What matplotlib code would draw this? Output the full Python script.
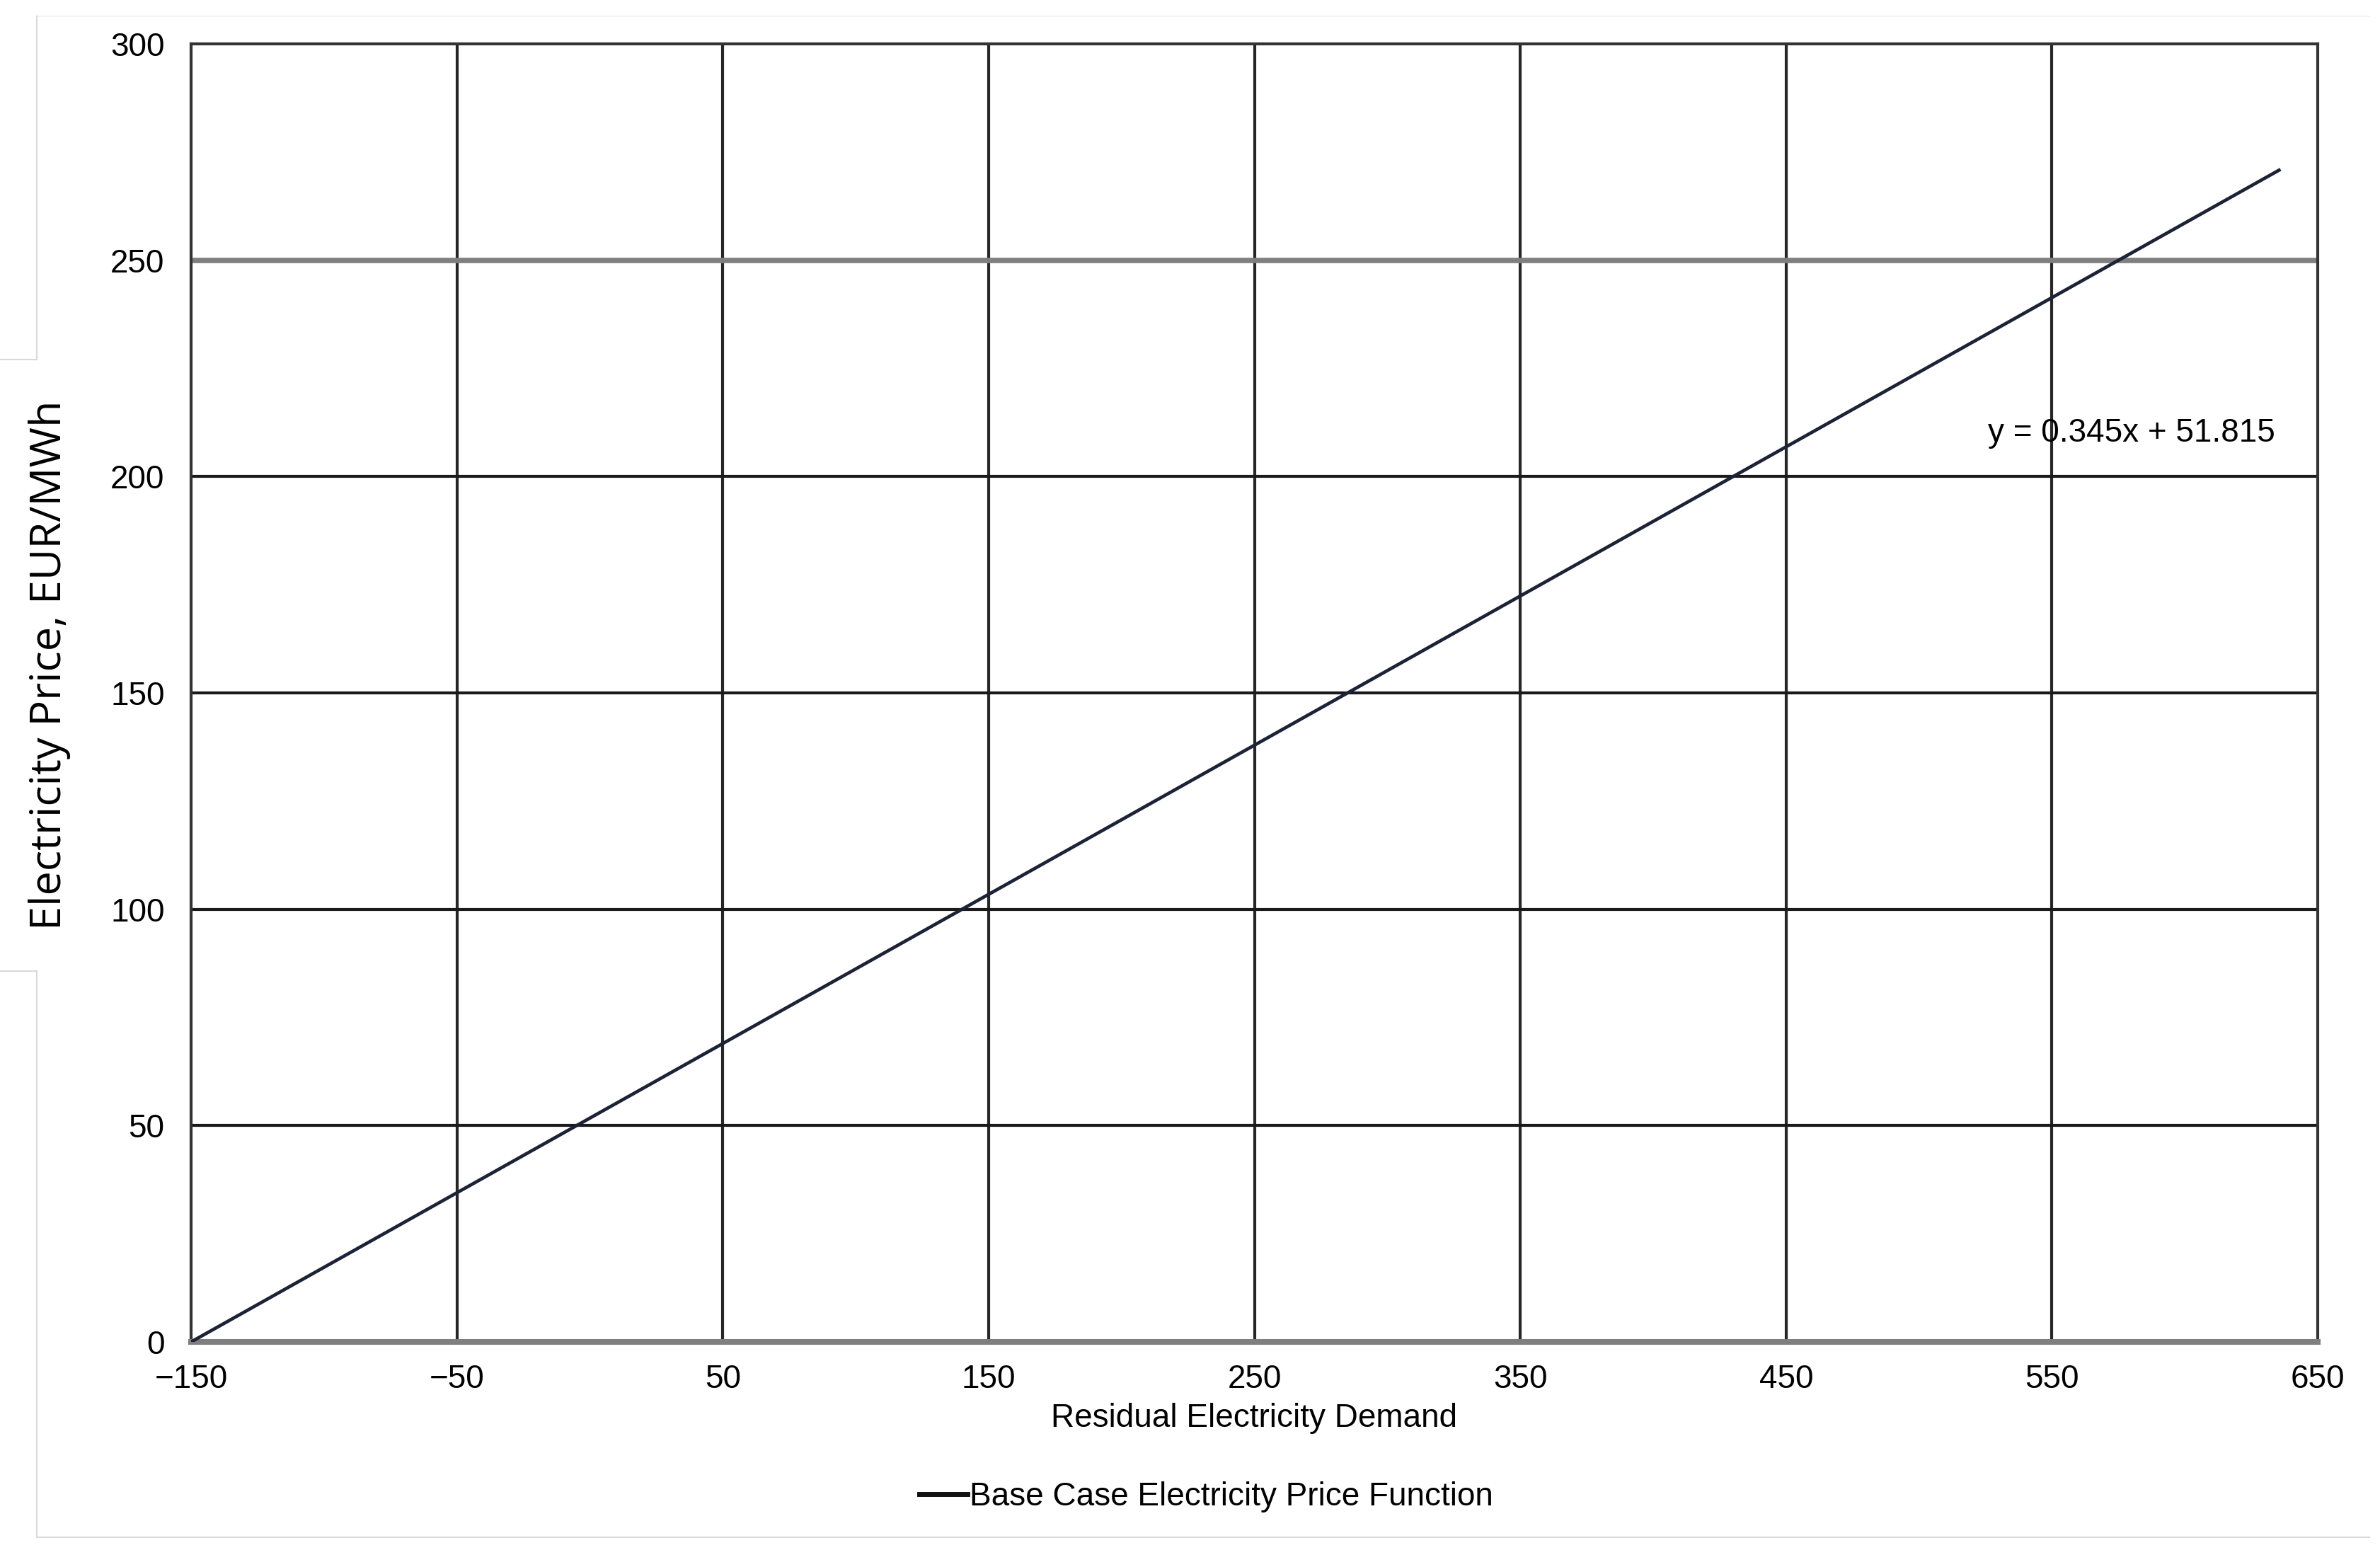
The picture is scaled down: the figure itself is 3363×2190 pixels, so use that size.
"""
Base case electricity price function vs residual demand.
"""
import matplotlib
matplotlib.use('Agg')
import matplotlib.pyplot as plt
from matplotlib.lines import Line2D

# data
demand = [-150, 636]
price = [0, 271]
x_ticks = [-150, -50, 50, 150, 250, 350, 450, 550, 650]
y_ticks = [0, 50, 100, 150, 200, 250, 300]
equation = 'y = 0.345x + 51.815'
series_name = 'Base Case Electricity Price Function'

W, H = 3363, 2190
fig = plt.figure(figsize=(W / 100, H / 100), dpi=100)
fig.patch.set_facecolor('white')

narrow = ['Liberation Sans Narrow', 'Liberation Sans', 'DejaVu Sans']

ax = fig.add_axes([270 / W, 1 - 1896 / H, (3275 - 270) / W, (1896 - 62) / H])
ax.set_xlim(-150, 650)
ax.set_ylim(0, 300)
ax.set_xticks(x_ticks)
ax.set_yticks(y_ticks)

# gridlines: dark verticals, dark horizontals except 250 which is grey
for xv in x_ticks[1:-1]:
    ax.axvline(xv, color='#262626', lw=3.0, zorder=1)
for yv in y_ticks[1:-1]:
    if yv == 250:
        ax.axhline(yv, color='#7f7f7f', lw=5.5, zorder=1)
    else:
        ax.axhline(yv, color='#1a1a1a', lw=3.0, zorder=1)

for side in ['left', 'top', 'right']:
    ax.spines[side].set_color('#333333')
    ax.spines[side].set_linewidth(3.0)
ax.spines['bottom'].set_color('#7f7f7f')
ax.spines['bottom'].set_linewidth(5.8)

ax.plot(demand, price, color='#1c2336', lw=3.4, zorder=3, solid_capstyle='butt',
        label=series_name)

ax.tick_params(length=0, labelsize=33)
ax.tick_params(axis='y', pad=27)
ax.tick_params(axis='x', pad=22)
for lab in ax.get_xticklabels() + ax.get_yticklabels():
    lab.set_family(narrow)

ax.text(580, 210, equation, ha='center', va='center', fontsize=33, family=narrow)

ax.set_xlabel('Residual Electricity Demand', fontsize=33, family=narrow, labelpad=8)

fig.text(70 / W, 1 - 940 / H, 'Electricity Price, EUR/MWh', rotation=90,
         ha='center', va='center', fontsize=44, family=['Open Sans', 'DejaVu Sans'])

leg = fig.legend(handles=[Line2D([], [], color='#111111', lw=5.0)], labels=[series_name],
                 loc='center', bbox_to_anchor=(1704 / W, 1 - 2115 / H), frameon=False,
                 prop={'family': narrow, 'size': 33}, handlelength=1.5, handletextpad=0.05)

# faint outer frame of the original image
def px_line(xs, ys, color='#d9d9d9'):
    fig.add_artist(Line2D([x / W for x in xs], [1 - y / H for y in ys],
                          color=color, lw=1.5, transform=fig.transFigure))

px_line([52, 3348], [23, 23], color='#f3f3f3')
px_line([52, 52], [23, 508])
px_line([0, 52], [508, 508])
px_line([0, 52], [1372, 1372])
px_line([52, 52], [1372, 2172])
px_line([52, 3348], [2172, 2172])

fig.savefig('out.png', dpi=100, facecolor='white')
